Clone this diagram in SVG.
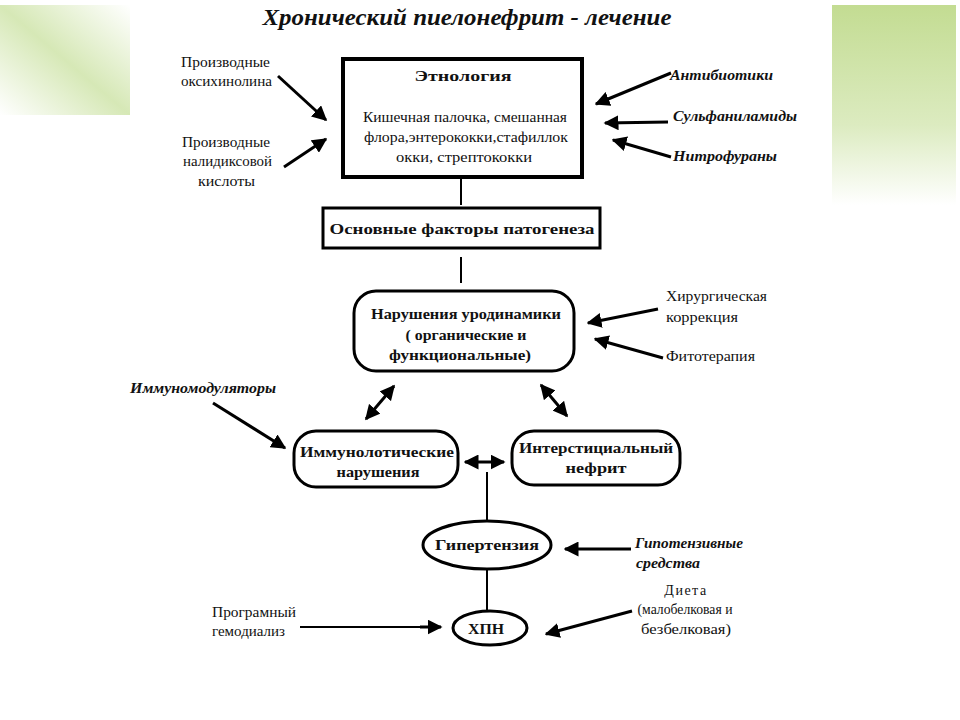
<svg xmlns="http://www.w3.org/2000/svg" width="960" height="720" viewBox="0 0 960 720">
<defs>
<linearGradient id="gR" x1="0" y1="0" x2="0" y2="1">
<stop offset="0" stop-color="#c3dc92"/>
<stop offset="0.6" stop-color="#dcebc0"/>
<stop offset="1" stop-color="#ffffff"/>
</linearGradient>
<linearGradient id="gL" x1="1" y1="0" x2="0" y2="1">
<stop offset="0" stop-color="#ffffff"/>
<stop offset="0.5" stop-color="#d6e8b6"/>
<stop offset="1" stop-color="#ffffff"/>
</linearGradient>
<marker id="ah" viewBox="0 0 10 10" refX="9" refY="5" markerWidth="5" markerHeight="5" orient="auto-start-reverse" markerUnits="strokeWidth">
<path d="M0,0 L10,5 L0,10 z" fill="#000"/>
</marker>
</defs>
<style>
text{font-family:"Liberation Serif","DejaVu Serif",serif;fill:#111}
.t{font-size:14px}
.b{font-size:15px;font-weight:bold}
.i{font-size:14px;font-style:italic;font-weight:bold}
.title{font-size:24px;font-style:italic;font-weight:bold}
.arr{stroke:#000;stroke-width:3;fill:none;marker-end:url(#ah)}
.dbl{stroke:#000;stroke-width:3;fill:none;marker-end:url(#ah);marker-start:url(#ah)}
.ln{stroke:#000;stroke-width:2;fill:none}
.node{fill:#fff;stroke:#000}
</style>
<rect width="960" height="720" fill="#fff"/>
<rect x="832" y="5" width="124" height="200" fill="url(#gR)"/>
<rect x="0" y="5" width="130" height="110" fill="url(#gL)"/>
<text class="title" x="467" y="25" text-anchor="middle" textLength="409" lengthAdjust="spacingAndGlyphs">Хронический пиелонефрит - лечение</text>

<g id="etiology">
<rect class="node" x="343" y="59" width="239" height="118" stroke-width="4"/>
<text class="b" x="463" y="81" text-anchor="middle" textLength="97" lengthAdjust="spacingAndGlyphs">Этнология</text>
<text class="t" x="465" y="122" text-anchor="middle" textLength="204" lengthAdjust="spacingAndGlyphs">Кишечная палочка, смешанная</text>
<text class="t" x="466" y="142" text-anchor="middle" textLength="204" lengthAdjust="spacingAndGlyphs">флора,энтерококки,стафиллок</text>
<text class="t" x="464" y="162" text-anchor="middle" textLength="136" lengthAdjust="spacingAndGlyphs">окки, стрептококки</text>
</g>
<g id="factors">
<rect class="node" x="323" y="208" width="277" height="40" stroke-width="3"/>
<text class="b" x="462" y="234" text-anchor="middle" font-size="16" textLength="265" lengthAdjust="spacingAndGlyphs">Основные факторы патогенеза</text>
</g>
<g id="urodynamics">
<rect class="node" x="354" y="291" width="220" height="80" rx="22" stroke-width="3"/>
<text class="b" x="466" y="319" text-anchor="middle" textLength="190" lengthAdjust="spacingAndGlyphs">Нарушения уродинамики</text>
<text class="b" x="466" y="340" text-anchor="middle" textLength="121" lengthAdjust="spacingAndGlyphs">( органические и</text>
<text class="b" x="460" y="360" text-anchor="middle" textLength="142" lengthAdjust="spacingAndGlyphs">функциональные)</text>
</g>
<g id="immune">
<rect class="node" x="294" y="431" width="164" height="56" rx="22" stroke-width="3"/>
<text class="b" x="377" y="457" text-anchor="middle" textLength="154" lengthAdjust="spacingAndGlyphs">Иммунолотические</text>
<text class="b" x="378" y="477" text-anchor="middle" textLength="83" lengthAdjust="spacingAndGlyphs">нарушения</text>
</g>
<g id="nephritis">
<rect class="node" x="512" y="431" width="168" height="54" rx="22" stroke-width="3"/>
<text class="b" x="596" y="453" text-anchor="middle" textLength="154" lengthAdjust="spacingAndGlyphs">Интерстициальный</text>
<text class="b" x="596" y="473" text-anchor="middle" textLength="61" lengthAdjust="spacingAndGlyphs">нефрит</text>
</g>
<g id="hypertension">
<ellipse class="node" cx="487" cy="545" rx="64" ry="24" stroke-width="3"/>
<text class="b" x="487" y="550" text-anchor="middle" textLength="104" lengthAdjust="spacingAndGlyphs">Гипертензия</text>
</g>
<g id="hpn">
<ellipse class="node" cx="490" cy="628" rx="37" ry="17" stroke-width="3"/>
<text class="b" x="486" y="634" text-anchor="middle" font-size="17" textLength="36" lengthAdjust="spacingAndGlyphs">ХПН</text>
</g>

<g id="labels">
<text class="t" x="181" y="67" textLength="89" lengthAdjust="spacingAndGlyphs">Производные</text>
<text class="t" x="181" y="86" textLength="91" lengthAdjust="spacingAndGlyphs">оксихинолина</text>
<text class="t" x="182" y="147" textLength="88" lengthAdjust="spacingAndGlyphs">Производные</text>
<text class="t" x="183" y="166" textLength="89" lengthAdjust="spacingAndGlyphs">налидиксовой</text>
<text class="t" x="198" y="186" textLength="57" lengthAdjust="spacingAndGlyphs">кислоты</text>
<text class="i" x="670" y="80" textLength="103" lengthAdjust="spacingAndGlyphs">Антибиотики</text>
<text class="i" x="673" y="121" textLength="124" lengthAdjust="spacingAndGlyphs">Сульфаниламиды</text>
<text class="i" x="673" y="161" textLength="104" lengthAdjust="spacingAndGlyphs">Нитрофураны</text>
<text class="t" x="666" y="301" textLength="101" lengthAdjust="spacingAndGlyphs">Хирургическая</text>
<text class="t" x="666" y="322" textLength="72" lengthAdjust="spacingAndGlyphs">коррекция</text>
<text class="t" x="666" y="361" textLength="89" lengthAdjust="spacingAndGlyphs">Фитотерапия</text>
<text class="i" x="130" y="393" textLength="146" lengthAdjust="spacingAndGlyphs">Иммуномодуляторы</text>
<text class="i" x="635" y="548" textLength="108" lengthAdjust="spacingAndGlyphs">Гипотензивные</text>
<text class="i" x="636" y="568" textLength="64" lengthAdjust="spacingAndGlyphs">средства</text>
<text class="t" x="686" y="595" text-anchor="middle" letter-spacing="1.5">Диета</text>
<text class="t" x="685" y="614" text-anchor="middle" textLength="95" lengthAdjust="spacingAndGlyphs">(малобелковая и</text>
<text class="t" x="686" y="634" text-anchor="middle" textLength="90" lengthAdjust="spacingAndGlyphs">безбелковая)</text>
<text class="t" x="212" y="617" textLength="84" lengthAdjust="spacingAndGlyphs">Програмный</text>
<text class="t" x="212" y="636" textLength="73" lengthAdjust="spacingAndGlyphs">гемодиализ</text>
</g>

<g id="connectors">
<line class="ln" x1="461" y1="177" x2="461" y2="205"/>
<line class="ln" x1="461" y1="257" x2="461" y2="283"/>
<line class="ln" x1="487" y1="472" x2="487" y2="521"/>
<line class="ln" x1="487" y1="569" x2="487" y2="610"/>
<line class="arr" x1="278" y1="76" x2="326" y2="120"/>
<line class="arr" x1="284" y1="167" x2="326" y2="139"/>
<line class="arr" x1="671" y1="73" x2="596" y2="104"/>
<line class="arr" x1="668" y1="122" x2="605" y2="123"/>
<line class="arr" x1="671" y1="157" x2="613" y2="140"/>
<line class="arr" x1="658" y1="309" x2="588" y2="323"/>
<line class="arr" x1="663" y1="358" x2="595" y2="339"/>
<line class="dbl" x1="394" y1="386" x2="366" y2="419"/>
<line class="dbl" x1="541" y1="385" x2="567" y2="416"/>
<line class="arr" x1="213" y1="403" x2="285" y2="448"/>
<line class="dbl" x1="465" y1="462" x2="504" y2="462"/>
<line class="arr" x1="631" y1="549" x2="565" y2="549"/>
<line class="arr" x1="632" y1="611" x2="546" y2="634"/>
<line class="ln" x1="300" y1="627" x2="432" y2="627"/>
<line class="arr" x1="420" y1="627" x2="441" y2="627"/>
</g>
</svg>
